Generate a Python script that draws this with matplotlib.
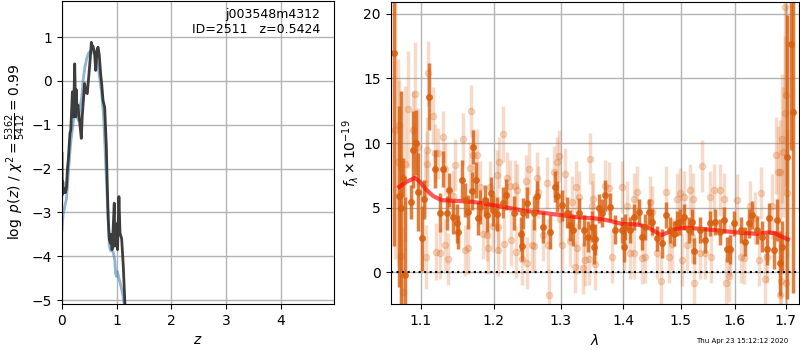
import matplotlib
matplotlib.use("Agg")
import matplotlib.pyplot as plt
from matplotlib.ticker import FixedLocator, NullLocator, FixedFormatter

# ---------------- p(z) panel data ----------------
z_chi = [0.0, 0.005, 0.015, 0.025, 0.04, 0.06, 0.08, 0.1, 0.115, 0.13, 0.145, 0.16,
         0.175, 0.19, 0.2, 0.21, 0.22, 0.232, 0.25, 0.26, 0.275, 0.29, 0.3, 0.32,
         0.353, 0.37, 0.39, 0.414, 0.43, 0.462, 0.493, 0.515, 0.536, 0.55, 0.565,
         0.597, 0.615, 0.64, 0.658, 0.68, 0.706, 0.725, 0.749, 0.78, 0.81, 0.83,
         0.845, 0.865, 0.885, 0.9, 0.915, 0.93, 0.955, 0.965, 0.98, 1.0, 1.015,
         1.04, 1.06, 1.09, 1.12, 1.15, 1.17]
lnp_chi = [-1.65, -2.6, -2.3, -2.55, -2.45, -2.55, -2.45, -2.0, -1.8, -1.5, -1.2, -1.12,
           -0.7, -0.25, -0.6, -0.82, -0.29, 0.39, -0.82, -0.2, -0.67, -0.55, -0.7, -0.9,
           -1.31, -0.8, -0.45, -0.06, -0.25, -0.29, 0.16, 0.5, 0.88, 0.75, 0.8,
           0.62, 0.24, 0.7, 0.77, 0.6, 0.16, -0.06, -0.44, -0.6, -1.5, -2.5,
           -3.17, -3.62, -3.7, -3.5, -3.85, -3.5, -2.79, -3.77, -3.25, -3.6, -3.85,
           -2.64, -3.47, -3.6, -4.23, -5.1, -5.6]

z_pz = [0.0, 0.02, 0.05, 0.08, 0.1, 0.115, 0.14, 0.16, 0.18, 0.2, 0.22, 0.25, 0.28,
        0.3, 0.33, 0.36, 0.39, 0.42, 0.45, 0.48, 0.51, 0.54, 0.57, 0.6, 0.63, 0.66,
        0.69, 0.725, 0.76, 0.785, 0.81, 0.83, 0.845, 0.865, 0.885, 0.91, 0.935,
        0.965, 0.98, 0.995, 1.01, 1.03, 1.06, 1.09, 1.12, 1.14, 1.16]
lnp_pz = [-3.4, -3.05, -2.87, -2.7, -2.4, -2.1, -1.7, -1.4, -1.2, -1.0, -0.8, -0.75, -0.85,
          -0.9, -0.6, -0.37, 0.05, 0.32, 0.5, 0.62, 0.67, 0.68, 0.65, 0.59, 0.5, 0.32,
          0.05, -0.29, -0.8, -1.5, -2.2, -2.8, -3.17, -3.75, -3.87, -3.88, -3.9,
          -4.1, -4.4, -4.46, -4.35, -4.45, -4.6, -4.75, -4.95, -5.1, -5.3]

# ---------------- spectrum panel data ----------------
wave_a = [1.0655, 1.0718, 1.0744, 1.0762, 1.0792, 1.0865, 1.0899, 1.0935, 1.0965, 1.1009,
          1.1044, 1.1110, 1.1186, 1.1253, 1.1298, 1.1343, 1.1379, 1.1433, 1.1480, 1.1502,
          1.1557, 1.1595, 1.1641, 1.1688, 1.1710, 1.1748, 1.1780, 1.1804, 1.1875, 1.1899,
          1.1956, 1.1994, 1.2042, 1.2138, 1.2178, 1.2285, 1.2393, 1.2417, 1.2432, 1.2483,
          1.2582, 1.2642, 1.2732, 1.2835, 1.2913, 1.2939, 1.3017, 1.3094, 1.3146, 1.3189,
          1.3277, 1.3357, 1.3421, 1.3492, 1.3529, 1.3545, 1.3599, 1.3654, 1.3708, 1.3790,
          1.3872, 1.3984, 1.4011, 1.4039, 1.4124, 1.4180, 1.4265, 1.4323, 1.4380, 1.4436,
          1.4495, 1.4582, 1.4670, 1.4745, 1.4815, 1.4874, 1.4934, 1.4993, 1.5053, 1.5143,
          1.5205, 1.5247, 1.5356, 1.5448, 1.5541, 1.5634, 1.5728, 1.5790, 1.5854, 1.5917,
          1.5980, 1.6109, 1.6205, 1.6269, 1.6335, 1.6433, 1.6532, 1.6617, 1.6663, 1.6763,
          1.6817, 1.6884, 1.6932, 1.7034, 1.7101, 1.7148]
flux_a = [17.0, 5.9, 5.0, 7.33, -0.2, 5.46, 9.5, 10.03, 6.23, 2.62,
          5.64, 13.6, 8.0, 4.6, 7.97, 4.6, 6.36, 4.3, 3.78, 3.14,
          7.18, 5.58, 4.68, 6.3, 9.7, 7.13, 4.17, 5.07, 5.58, 4.43,
          6.15, 4.81, 4.5, 5.4, 6.02, 4.6, 2.95, 2.06, 4.56, 5.4,
          4.6, 5.89, 3.5, 3.14, 6.61, 5.89, 5.2, 4.6, 3.65, 3.27,
          4.56, 3.27, 2.75, 3.52, 1.98, 2.55, 4.94, 4.6, 5.97, 5.07,
          3.3, 3.3, 1.98, 3.52, 3.27, 4.3, 4.68, 2.75, 3.5, 4.68,
          3.91, 2.62, 2.24, 4.43, 3.27, 3.0, 3.78, 3.9, 4.3, 3.27,
          3.91, 1.62, 3.27, 2.49, 3.78, 3.91, 3.14, 4.04, 1.77, 1.77,
          3.78, 3.27, 2.37, 3.78, 4.43, 3.27, 2.75, 1.77, 4.17, 1.72,
          4.04, 0.69, 1.98, 8.9, 17.7, 12.4]
err_a = [15.0, 7.0, 9.0, 1.5, 6.0, 1.3, 3.0, 2.5, 3.0, 2.5,
         1.5, 2.6, 1.5, 1.5, 1.4, 1.3, 1.3, 1.3, 1.5, 1.3,
         1.5, 1.3, 1.3, 1.5, 1.3, 1.4, 1.3, 1.3, 1.2, 1.3,
         1.2, 1.2, 1.3, 1.2, 1.2, 1.3, 1.3, 1.2, 1.2, 1.2,
         1.3, 1.2, 1.2, 1.3, 1.2, 1.2, 1.2, 1.2, 1.2, 1.2,
         1.2, 1.2, 1.2, 1.2, 1.3, 1.2, 1.1, 1.1, 1.2, 1.1,
         1.1, 1.0, 1.2, 1.0, 1.0, 1.0, 1.0, 1.0, 1.0, 1.0,
         1.0, 1.0, 1.1, 1.0, 1.0, 1.0, 1.0, 1.0, 1.0, 1.0,
         1.0, 1.0, 1.0, 1.0, 1.0, 1.0, 1.0, 1.0, 1.0, 1.1,
         1.0, 1.0, 1.1, 1.1, 1.1, 1.1, 1.2, 1.2, 1.2, 1.5,
         1.6, 2.5, 2.0, 11.0, 8.2, 14.0]

wave_b = [1.0664, 1.0702, 1.0718, 1.0744, 1.0770, 1.0792, 1.0834, 1.0899, 1.0921, 1.0956,
          1.1053, 1.1066, 1.1075, 1.1083, 1.1096, 1.1159, 1.1186, 1.1195, 1.1230, 1.1253,
          1.1298, 1.1321, 1.1327, 1.1365, 1.1425, 1.1457, 1.1563, 1.1595, 1.1641, 1.1664,
          1.1674, 1.1710, 1.1758, 1.1804, 1.1851, 1.1899, 1.1922, 1.1946, 1.1994, 1.2042,
          1.2054, 1.2066, 1.2080, 1.2138, 1.2148, 1.2197, 1.2236, 1.2251, 1.2310, 1.2324,
          1.2335, 1.2408, 1.2472, 1.2483, 1.2507, 1.2558, 1.2592, 1.2633, 1.2645, 1.2723,
          1.2785, 1.2809, 1.2824, 1.2886, 1.2939, 1.2964, 1.2990, 1.3017, 1.3068, 1.3146,
          1.3173, 1.3225, 1.3241, 1.3257, 1.3277, 1.3347, 1.3384, 1.3437, 1.3464, 1.3492,
          1.3508, 1.3545, 1.3708, 1.3762, 1.3818, 1.3984, 1.4011, 1.4068, 1.4124, 1.4180,
          1.4192, 1.4238, 1.4323, 1.4380, 1.4453, 1.4495, 1.4582, 1.4658, 1.4745, 1.4786,
          1.4845, 1.4934, 1.4981, 1.5024, 1.5053, 1.5115, 1.5174, 1.5205, 1.5223, 1.5247,
          1.5343, 1.5387, 1.5448, 1.5541, 1.5554, 1.5616, 1.5715, 1.5790, 1.5841, 1.5885,
          1.5904, 1.6045, 1.6109, 1.6186, 1.6302, 1.6400, 1.6466, 1.6499, 1.6578, 1.6632,
          1.6731, 1.6797, 1.6844, 1.6884, 1.6888, 1.6898, 1.6933, 1.6953, 1.6979, 1.6985,
          1.7000, 1.7010, 1.7034]
flux_b = [11.0, 8.5, 11.4, 1.26, -1.5, 8.4, 12.6, 11.0, 13.8, 9.7,
          6.8, 1.2, 8.4, 9.5, 15.4, 12.1, 9.24, 1.6, 9.2, 1.47,
          10.5, 8.0, 2.1, 1.03, 5.9, 8.3, 10.3, 1.7, 1.85, 8.1,
          12.5, 9.05, 9.05, 6.6, 3.0, 2.9, 1.85, 6.6, 3.6, 7.5,
          3.5, 1.7, 8.5, 10.7, 2.2, 7.3, 6.7, 2.5, 6.7, 1.6,
          6.4, 1.0, 7.1, 0.7, 8.0, 2.1, 2.0, 7.3, 6.2, 2.9,
          6.9, 2.1, -1.75, 7.8, 8.5, 9.0, 4.1, 2.1, 7.6, 2.4,
          5.45, 0.43, 6.6, 1.85, 5.85, 0.3, 0.95, 1.0, 8.8, 5.1,
          5.7, 0.65, 6.7, 6.5, 1.2, 6.6, 2.1, 5.1, 1.5, 5.7,
          1.5, 6.2, 1.1, 1.2, 5.45, 4.7, 1.5, -0.67, 6.2, 1.2,
          2.2, 5.7, 6.1, 0.95, 5.85, 2.1, 6.4, 2.75, 5.7, -0.85,
          1.5, 8.2, 1.5, 5.85, 1.2, 6.35, 6.35, 5.7, -0.85, -0.3,
          1.7, 5.6, 1.2, 1.1, 5.1, 4.2, 0.95, 6.15, -0.5, 1.2,
          5.1, 9.05, 7.8, 7.8, -1.75, -0.7, 10.35, 9.3, 20.5, 12.3,
          13.7, -0.85, 6.1]
err_b = [10.0, 8.0, 3.5, 5.0, 5.0, 6.0, 4.5, 3.0, 4.0, 3.0,
         2.5, 2.5, 2.5, 2.5, 2.5, 2.2, 2.2, 2.2, 2.0, 2.0,
         2.0, 2.0, 2.0, 2.0, 2.0, 2.0, 2.0, 2.0, 2.0, 2.0,
         2.0, 2.0, 2.0, 2.0, 2.0, 2.0, 2.0, 2.0, 2.0, 2.0,
         2.0, 2.0, 2.0, 2.2, 2.0, 2.0, 2.0, 2.0, 2.0, 2.0,
         2.0, 2.0, 2.0, 2.0, 2.0, 2.0, 2.0, 2.0, 2.0, 2.0,
         2.0, 2.0, 2.0, 2.0, 2.0, 2.0, 2.0, 2.0, 2.0, 2.0,
         2.0, 2.0, 2.0, 2.0, 2.0, 2.0, 2.0, 2.0, 2.0, 2.0,
         2.0, 2.0, 2.0, 2.0, 2.0, 2.0, 2.0, 2.0, 2.0, 2.0,
         2.0, 2.0, 2.0, 2.0, 2.0, 2.0, 2.0, 2.0, 2.0, 2.0,
         2.0, 2.0, 2.0, 2.0, 2.0, 2.0, 2.0, 2.0, 2.0, 2.0,
         2.0, 2.0, 2.0, 2.0, 2.0, 2.0, 2.0, 2.0, 2.0, 2.0,
         2.0, 2.0, 2.0, 2.0, 2.0, 2.0, 2.0, 2.0, 2.0, 2.0,
         2.5, 3.0, 3.5, 4.0, 3.0, 3.5, 5.0, 5.0, 7.0, 6.0,
         7.0, 4.0, 5.0]

wave_model = [1.0718, 1.0813, 1.0921, 1.0987, 1.1075, 1.1163, 1.1276, 1.1480, 1.1710, 1.2018,
              1.2187, 1.2432, 1.2682, 1.2994, 1.3251, 1.3544, 1.3681, 1.3845, 1.3995, 1.4238,
              1.4409, 1.4553, 1.4652, 1.4758, 1.4936, 1.5115, 1.5267, 1.5481, 1.5791, 1.6109,
              1.6436, 1.6665, 1.6799, 1.6898, 1.7047]
flux_model = [6.61, 7.0, 7.31, 7.0, 6.36, 5.89, 5.58, 5.53, 5.45, 5.17,
              5.02, 4.76, 4.63, 4.43, 4.27, 4.17, 4.09, 3.91, 3.73, 3.70,
              3.52, 3.14, 2.88, 3.06, 3.40, 3.45, 3.40, 3.32, 3.19, 3.06,
              2.98, 3.09, 3.01, 2.80, 2.55]

wave_ticks = [1.1, 1.2, 1.3, 1.4, 1.5, 1.6, 1.7]
wave_ticklabels = ["1.1", "1.2", "1.3", "1.4", "1.5", "1.6", "1.7"]

ORANGE = "#d95f0e"

fig = plt.figure(figsize=(8, 3.5), dpi=100)

# ---------- left panel ----------
ax1 = fig.add_axes([0.0775, 0.1314, 0.34, 0.8666])
ax1.plot(z_pz, lnp_pz, color="steelblue", alpha=0.6, lw=2)
ax1.plot(z_chi, lnp_chi, color="0.2", alpha=0.95, lw=2)
ax1.set_xlim(0, 4.97)
ax1.set_ylim(-5.09, 1.83)
ax1.set_xticks([0, 1, 2, 3, 4])
ax1.set_yticks([-5, -4, -3, -2, -1, 0, 1])
ax1.grid(True, color="0.7", lw=1)
ax1.set_axisbelow(True)
ax1.set_xlabel(r"$z$", fontsize=10, labelpad=4)
ax1.set_ylabel(r"$\log\ p(z)$ / $\chi^2=\frac{5362}{5412}=0.99$", fontsize=10, labelpad=3)
ax1.text(0.95, 0.975, "j003548m4312\nID=2511   z=0.5424", transform=ax1.transAxes,
         ha="right", va="top", fontsize=9)
ax1.tick_params(labelsize=10)

# ---------- right panel ----------
ax2 = fig.add_axes([0.4884, 0.1314, 0.5107, 0.8643])
ax2.set_xscale("log")
ax2.errorbar(wave_b, flux_b, yerr=err_b, fmt="o", color=ORANGE, alpha=0.22,
             markersize=4.5, elinewidth=2.5, capsize=0, linestyle="none")
ax2.errorbar(wave_a, flux_a, yerr=err_a, fmt="o", color=ORANGE, alpha=0.8,
             markersize=4, elinewidth=2.5, capsize=0, linestyle="none")
ax2.plot(wave_model, flux_model, color="r", alpha=0.65, lw=3)
ax2.axhline(0, color="k", ls=":", lw=1.5)
ax2.set_xlim(1.061, 1.728)
ax2.set_ylim(-2.45, 20.95)
ax2.xaxis.set_major_locator(FixedLocator(wave_ticks))
ax2.xaxis.set_major_formatter(FixedFormatter(wave_ticklabels))
ax2.xaxis.set_minor_locator(NullLocator())
ax2.set_yticks([0, 5, 10, 15, 20])
ax2.grid(True, color="0.7", lw=1)
ax2.set_axisbelow(True)
ax2.set_xlabel(r"$\lambda$", fontsize=10, labelpad=4)
ax2.set_ylabel(r"$f_\lambda \times 10^{-19}$", fontsize=10, labelpad=2)
ax2.tick_params(labelsize=10)

fig.text(0.985, 0.027, "Thu Apr 23 15:12:12 2020", ha="right", va="center", fontsize=5)

fig.savefig("out.png", dpi=100)
